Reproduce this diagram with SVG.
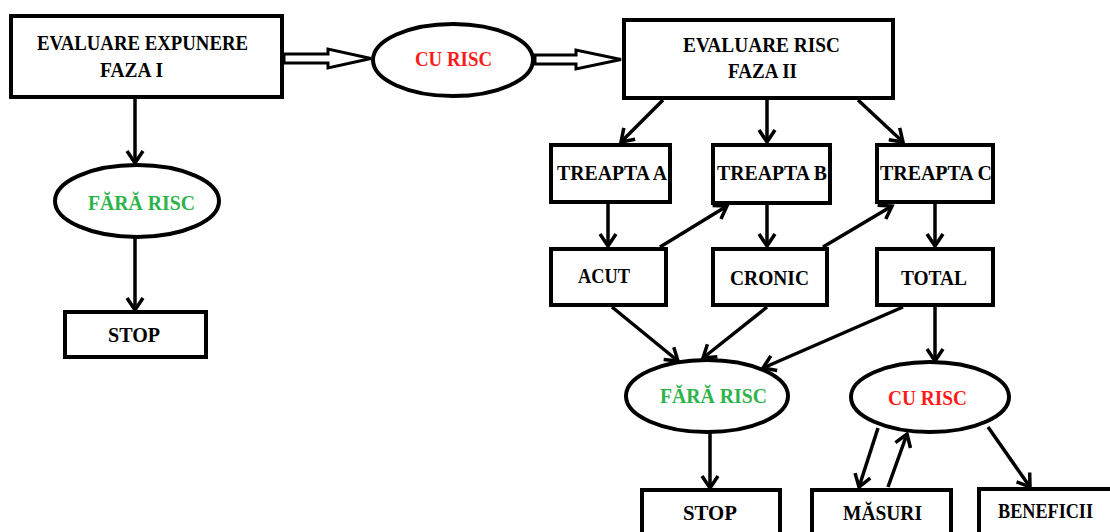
<svg xmlns="http://www.w3.org/2000/svg" width="1110" height="532" viewBox="0 0 1110 532">
<defs>
<marker id="ah" viewBox="-15 -11 18 22" markerWidth="18" markerHeight="22" refX="0" refY="0" orient="auto" markerUnits="userSpaceOnUse">
<path d="M-12,-8 L0,0 L-12,8" fill="none" stroke="#000" stroke-width="3.5" stroke-linejoin="miter"/>
</marker>
<style>
.box{fill:#fff;stroke:#000;stroke-width:4}
.ell{fill:#fff;stroke:#000;stroke-width:4}
.t{font-family:"Liberation Serif","Times New Roman",serif;font-weight:bold;font-size:21px;fill:#000;text-anchor:middle}
.g{fill:#2DB34A}
.r{fill:#FF1A1A}
.c{fill:none;stroke:#000;stroke-width:3.5;marker-end:url(#ah)}
.dbl{fill:#fff;stroke:#000;stroke-width:3;stroke-linejoin:miter}
</style>
</defs>
<rect width="1110" height="532" fill="#fff"/>
<g id="connectors">
<path class="dbl" d="M284,54 L328,54 L328,49 L371,58.5 L328,68 L328,63 L284,63 Z"/>
<path class="dbl" d="M535,55 L576,55 L576,50 L621,59.5 L576,69 L576,64 L535,64 Z"/>
<line class="c" x1="135" y1="99" x2="135" y2="163"/>
<line class="c" x1="135" y1="238" x2="135" y2="310"/>
<line class="c" x1="663" y1="100" x2="621" y2="142"/>
<line class="c" x1="767" y1="100" x2="767" y2="142"/>
<line class="c" x1="858" y1="100" x2="903" y2="142"/>
<line class="c" x1="608" y1="204" x2="608" y2="246"/>
<line class="c" x1="660" y1="247" x2="727" y2="206"/>
<line class="c" x1="767" y1="205" x2="767" y2="246"/>
<line class="c" x1="823" y1="247" x2="892" y2="206"/>
<line class="c" x1="935" y1="204" x2="935" y2="246"/>
<line class="c" x1="612" y1="307" x2="678" y2="361"/>
<line class="c" x1="767" y1="307" x2="703" y2="358"/>
<line class="c" x1="903" y1="307" x2="763" y2="368"/>
<line class="c" x1="935" y1="307" x2="935" y2="361"/>
<line class="c" x1="710" y1="433" x2="710" y2="488"/>
<line class="c" x1="878" y1="428" x2="859" y2="487"/>
<line class="c" x1="888" y1="487" x2="907" y2="434"/>
<line class="c" x1="988" y1="427" x2="1030" y2="487"/>
</g>
<g id="evaluare-expunere">
<rect class="box" x="11" y="16" width="271" height="81"/>
<text class="t" x="142.5" y="50" textLength="211" lengthAdjust="spacingAndGlyphs">EVALUARE EXPUNERE</text>
<text class="t" x="131.5" y="77" textLength="63" lengthAdjust="spacingAndGlyphs">FAZA I</text>
</g>
<g id="cu-risc-top">
<ellipse class="ell" cx="453" cy="60" rx="80" ry="36"/>
<text class="t r" x="453.5" y="66" textLength="77" lengthAdjust="spacingAndGlyphs">CU RISC</text>
</g>
<g id="evaluare-risc">
<rect class="box" x="624" y="20" width="269" height="78"/>
<text class="t" x="761.5" y="52" textLength="157" lengthAdjust="spacingAndGlyphs">EVALUARE RISC</text>
<text class="t" x="762.5" y="78" textLength="69" lengthAdjust="spacingAndGlyphs">FAZA II</text>
</g>
<g id="fara-risc-left">
<ellipse class="ell" cx="137" cy="201" rx="82" ry="36"/>
<text class="t g" x="141.5" y="210" textLength="107" lengthAdjust="spacingAndGlyphs">FĂRĂ RISC</text>
</g>
<g id="stop-left">
<rect class="box" x="65" y="312" width="141" height="45"/>
<text class="t" x="134" y="342" textLength="52" lengthAdjust="spacingAndGlyphs">STOP</text>
</g>
<g id="treapta-a">
<rect class="box" x="551" y="145" width="119" height="57"/>
<text class="t" x="612" y="180" textLength="110" lengthAdjust="spacingAndGlyphs">TREAPTA A</text>
</g>
<g id="treapta-b">
<rect class="box" x="713" y="145" width="117" height="58"/>
<text class="t" x="772" y="180" textLength="110" lengthAdjust="spacingAndGlyphs">TREAPTA B</text>
</g>
<g id="treapta-c">
<rect class="box" x="877" y="145" width="116" height="57"/>
<text class="t" x="936" y="180" textLength="112" lengthAdjust="spacingAndGlyphs">TREAPTA C</text>
</g>
<g id="acut">
<rect class="box" x="551" y="249" width="115" height="56"/>
<text class="t" x="604" y="283" textLength="52" lengthAdjust="spacingAndGlyphs">ACUT</text>
</g>
<g id="cronic">
<rect class="box" x="713" y="249" width="114" height="56"/>
<text class="t" x="769.5" y="285" textLength="79" lengthAdjust="spacingAndGlyphs">CRONIC</text>
</g>
<g id="total">
<rect class="box" x="877" y="249" width="116" height="56"/>
<text class="t" x="934" y="285" textLength="66" lengthAdjust="spacingAndGlyphs">TOTAL</text>
</g>
<g id="fara-risc-bottom">
<ellipse class="ell" cx="707" cy="396" rx="81" ry="36"/>
<text class="t g" x="713.5" y="403" textLength="107" lengthAdjust="spacingAndGlyphs">FĂRĂ RISC</text>
</g>
<g id="cu-risc-bottom">
<ellipse class="ell" cx="930" cy="397" rx="79" ry="35"/>
<text class="t r" x="927.5" y="405" textLength="79" lengthAdjust="spacingAndGlyphs">CU RISC</text>
</g>
<g id="stop-bottom">
<rect class="box" x="642" y="490" width="138" height="50"/>
<text class="t" x="710" y="520" textLength="54" lengthAdjust="spacingAndGlyphs">STOP</text>
</g>
<g id="masuri">
<rect class="box" x="812" y="490" width="139" height="50"/>
<text class="t" x="882.5" y="520" textLength="79" lengthAdjust="spacingAndGlyphs">MĂSURI</text>
</g>
<g id="beneficii">
<rect class="box" x="979" y="489" width="140" height="50"/>
<text class="t" x="1045.5" y="518" textLength="95" lengthAdjust="spacingAndGlyphs">BENEFICII</text>
</g>
</svg>
